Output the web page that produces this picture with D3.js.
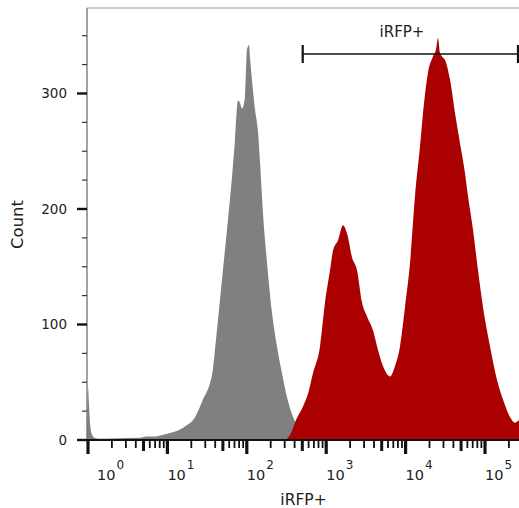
<!DOCTYPE html>
<html>
<head>
<meta charset="utf-8">
<script src="https://cdn.jsdelivr.net/npm/d3@7/dist/d3.min.js"></script>
<style>
  html, body { margin: 0; padding: 0; background: #fff; }
  svg { display: block; }
  text { font-family: "DejaVu Sans", Verdana, sans-serif; fill: #222; }
</style>
</head>
<body>
<svg id="chart" width="519" height="508"></svg>
<script>
// ---- data ----
const grayValues = [0.975, 1.0, 1.03, 1.07, 1.12, 1.2, 1.42, 2.5, 4.5, 5.5, 7, 8.1, 10.8, 14.4, 17.7, 21, 25.8, 28, 31.5, 34.4, 37.5, 39.7, 43.4, 48.7, 56.3, 65.1, 71, 77.5, 82, 87, 94.9, 100.6, 106.6, 110, 116, 127, 138, 147, 160, 180, 208, 240, 277, 321, 382, 468, 541, 662, 835];
const grayCounts = [0, 45, 30, 12, 5, 2, 1, 1.5, 2, 3, 3, 4, 6, 9, 13, 17, 29, 35, 42, 49, 62, 78, 104, 139, 182, 228, 260, 294, 292, 287, 297, 338, 342, 330, 312, 286, 268, 240, 196, 153, 110, 81, 58, 37, 20, 9, 4, 1, 0];

const redValues = [300, 330, 371, 404, 510, 590, 682, 835, 966, 1117, 1219, 1409, 1629, 1829, 2115, 2445, 2826, 3267, 3884, 4490, 5191, 6364, 7352, 8499, 9826, 11360, 13130, 15180, 16560, 19140, 22130, 24150, 25590, 27110, 28720, 31340, 36230, 41890, 48420, 55980, 61090, 70630, 81650, 94400, 115700, 141700, 168600, 206400, 238800, 268000];
const redCounts  = [0, 2, 8, 15, 29, 40, 58, 81, 119, 147, 164, 173, 186, 179, 158, 147, 119, 107, 95, 78, 64, 55, 64, 81, 115, 153, 211, 254, 283, 318, 332, 338, 348, 335, 332, 329, 312, 283, 257, 231, 211, 182, 147, 115, 81, 52, 35, 20, 15, 17];

const yTicks = [0, 100, 200, 300];
const yMinorTicks = [25, 50, 75, 125, 150, 175, 225, 250, 275, 325, 350];
const xDecades = [0, 1, 2, 3, 4, 5];
const gateRange = [506, 265000];
const gateLabel = "iRFP+";
const xLabel = "iRFP+";
const yLabel = "Count";

(function () {
// ---- layout ----
const pL = 87, pR = 519, pT = 8, pB = 440;
const svg = d3.select("#chart");

const x = d3.scaleLog().domain([1, 1e5]).range([88, 485]);
const y = d3.scaleLinear().domain([0, 374]).range([pB, pT]);

svg.append("clipPath").attr("id", "plotclip")
  .append("rect").attr("x", pL).attr("y", pT).attr("width", pR - pL).attr("height", pB - pT);

const area = d3.area()
  .x(d => x(d[0]))
  .y0(y(0))
  .y1(d => y(d[1]))
  .curve(d3.curveMonotoneX);

const g = svg.append("g").attr("clip-path", "url(#plotclip)");
g.append("path").datum(grayValues.map((v, i) => [v, grayCounts[i]]))
  .attr("d", area).attr("fill", "#808080");
g.append("path").datum(redValues.map((v, i) => [v, redCounts[i]]))
  .attr("d", area).attr("fill", "#aa0000");

// frame
svg.append("line").attr("x1", pL).attr("x2", pR).attr("y1", pT).attr("y2", pT)
  .attr("stroke", "#999").attr("stroke-width", 1.2);
svg.append("line").attr("x1", pL).attr("x2", pL).attr("y1", pT).attr("y2", pB)
  .attr("stroke", "#666").attr("stroke-width", 1.2);

// y axis ticks
svg.selectAll(".ymaj").data(yTicks).join("line")
  .attr("x1", 77).attr("x2", pL).attr("y1", d => y(d)).attr("y2", d => y(d))
  .attr("stroke", "#111").attr("stroke-width", 2.4);
svg.selectAll(".ymin").data(yMinorTicks).join("line")
  .attr("x1", 82).attr("x2", pL).attr("y1", d => y(d)).attr("y2", d => y(d))
  .attr("stroke", "#333").attr("stroke-width", 1.2);
svg.selectAll(".ylab").data(yTicks).join("text")
  .attr("x", 67).attr("y", d => y(d)).attr("dy", "0.36em")
  .attr("text-anchor", "end").attr("font-size", 13.5)
  .text(d => d);

// x axis line
svg.append("line").attr("x1", pL).attr("x2", pR).attr("y1", pB).attr("y2", pB)
  .attr("stroke", "#111").attr("stroke-width", 2);

// x ticks
const minorX = [];
xDecades.forEach(k => { for (let m = 2; m <= 9; m++) minorX.push(m * Math.pow(10, k)); });
svg.selectAll(".xmin").data(minorX.filter(v => x(v) <= pR)).join("line")
  .attr("x1", d => x(d)).attr("x2", d => x(d)).attr("y1", pB).attr("y2", d => (Math.round(d / Math.pow(10, Math.floor(Math.log10(d) + 1e-9))) === 5 ? 451 : 448))
  .attr("stroke", "#111").attr("stroke-width", d => (Math.round(d / Math.pow(10, Math.floor(Math.log10(d) + 1e-9))) === 5 ? 3 : 1.8));
svg.selectAll(".xmaj").data(xDecades).join("line")
  .attr("x1", d => x(Math.pow(10, d))).attr("x2", d => x(Math.pow(10, d)))
  .attr("y1", pB).attr("y2", 454)
  .attr("stroke", "#111").attr("stroke-width", 3.2);

const xl = svg.selectAll(".xlab").data(xDecades).join("text")
  .attr("x", d => x(Math.pow(10, d)) + (d === 0 ? 9 : 0))
  .attr("y", 480).attr("font-size", 14.5);
xl.append("tspan").text("10");
xl.append("tspan").attr("font-size", 12).attr("dy", -11).attr("dx", 1).text(d => d);

// axis labels
svg.append("text").attr("x", 303.5).attr("y", 505).attr("text-anchor", "middle")
  .attr("font-size", 15.5).text(xLabel);
svg.append("text").attr("transform", "translate(23,224.5) rotate(-90)")
  .attr("text-anchor", "middle").attr("font-size", 16.5).text(yLabel);

// gate
const gy = 54;
const gx0 = x(gateRange[0]), gx1 = Math.min(x(gateRange[1]), 518);
svg.append("line").attr("x1", gx0).attr("x2", gx1).attr("y1", gy).attr("y2", gy)
  .attr("stroke", "#111").attr("stroke-width", 1.6);
[gx0, gx1].forEach(px => svg.append("line").attr("x1", px).attr("x2", px)
  .attr("y1", gy - 9).attr("y2", gy + 9).attr("stroke", "#111").attr("stroke-width", 2.2));
svg.append("text").attr("x", 402).attr("y", 37).attr("text-anchor", "middle")
  .attr("font-size", 15).text(gateLabel);
})();
</script>
</body>
</html>
